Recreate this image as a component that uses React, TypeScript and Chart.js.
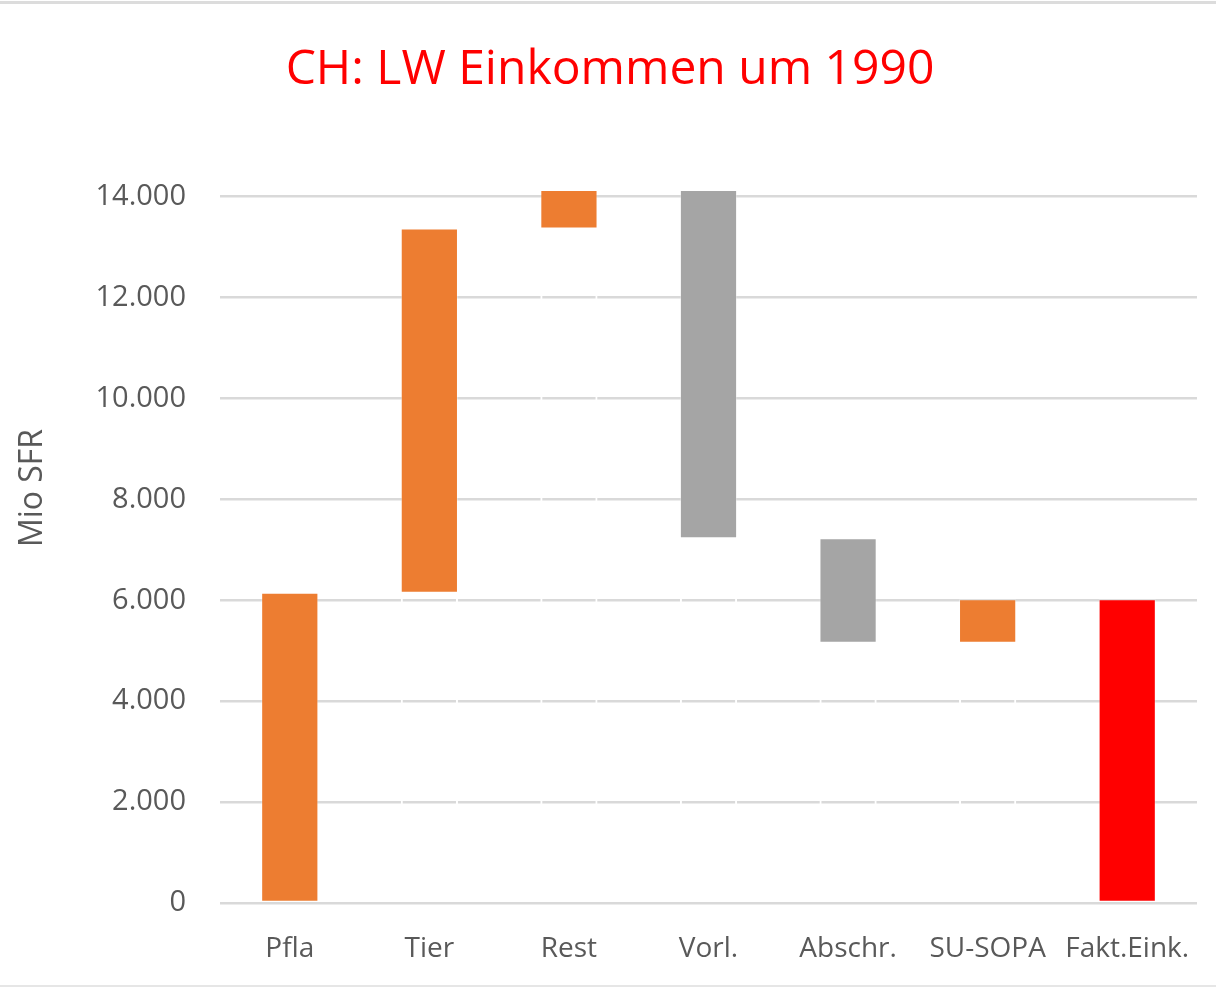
import React, { useEffect, useRef } from "react";
import { Chart, registerables } from "chart.js";

Chart.register(...registerables);

const categories = ["Pfla", "Tier", "Rest", "Vorl.", "Abschr.", "SU-SOPA", "Fakt.Eink."];
const barLow = [0, 6150, 13370, 7230, 5160, 5160, 0];
const barHigh = [6150, 13370, 14130, 14130, 7230, 6020, 6020];
const barColors = ["#ED7D31", "#ED7D31", "#ED7D31", "#A5A5A5", "#A5A5A5", "#ED7D31", "#FF0000"];
const yTicks = [0, 2000, 4000, 6000, 8000, 10000, 12000, 14000];
const titleText = "CH: LW Einkommen um 1990";
const yTitle = "Mio SFR";

const fmt = (v: number) => {
  const s = String(Math.round(v));
  return s.replace(/\B(?=(\d{3})+(?!\d))/g, ".");
};

const FONT = "'Open Sans', 'Liberation Sans', sans-serif";

const yTitlePlugin = {
  id: "yTitlePlugin",
  afterDraw(chart: any) {
    const ctx = chart.ctx;
    ctx.save();
    ctx.translate(33, 488);
    ctx.rotate(-Math.PI / 2);
    ctx.fillStyle = "#595959";
    ctx.font = `32px ${FONT}`;
    ctx.textAlign = "center";
    ctx.textBaseline = "middle";
    ctx.fillText(yTitle, 0, 0);
    ctx.restore();
  },
};

export default function App() {
  const ref = useRef<HTMLCanvasElement | null>(null);

  useEffect(() => {
    document.body.style.margin = "0";
    const canvas = ref.current;
    if (!canvas) return;
    const chart = new Chart(canvas, {
      type: "bar",
      data: {
        labels: categories,
        datasets: [
          {
            label: "base",
            data: barLow.map((l) => [0, l]),
            backgroundColor: "rgba(0,0,0,0)",
            borderColor: "#ffffff",
            borderWidth: { left: 2, right: 2, top: 0, bottom: 0 },
            borderSkipped: false,
            grouped: false,
            categoryPercentage: 1,
            barPercentage: 0.41,
          } as any,
          {
            label: "value",
            data: barLow.map((l, i) => [l, barHigh[i]]),
            backgroundColor: barColors,
            borderColor: "rgba(255,255,255,0.35)",
            borderWidth: 1,
            borderSkipped: false,
            grouped: false,
            clip: false,
            categoryPercentage: 1,
            barPercentage: 0.41,
          } as any,
        ],
      },
      options: {
        animation: false,
        responsive: false,
        maintainAspectRatio: false,
        layout: { padding: { left: 23, right: 19, top: 0, bottom: 0 } },
        plugins: {
          legend: { display: false },
          tooltip: { enabled: false },
          title: {
            display: true,
            text: titleText,
            color: "#FF0000",
            font: { family: FONT, size: 48, weight: "normal" },
            padding: { top: 42, bottom: 97 },
          },
        },
        scales: {
          x: {
            grid: { display: false, drawTicks: false },
            border: { display: false },
            ticks: {
              color: "#595959",
              font: { family: FONT, size: 28 },
              padding: 29,
              maxRotation: 0,
              autoSkip: false,
            },
            afterFit: (s: any) => {
              s.height = 85;
              s.paddingLeft = 0;
              s.paddingRight = 0;
            },
          },
          y: {
            min: 0,
            max: 14000,
            afterBuildTicks: (s: any) => {
              s.ticks = yTicks.map((v) => ({ value: v }));
            },
            grid: { color: "#D9D9D9", lineWidth: 2.5, drawTicks: false },
            border: { display: false },
            ticks: {
              color: "#595959",
              font: { family: FONT, size: 29 },
              padding: 34,
              callback: (v: any) => fmt(Number(v)),
            },
            afterFit: (s: any) => {
              s.width = 197;
            },
          },
        },
      } as any,
      plugins: [yTitlePlugin],
    });
    return () => chart.destroy();
  }, []);

  return (
    <div style={{ position: "relative", width: 1216, height: 988, background: "#fff" }}>
      <canvas ref={ref} width={1216} height={988} style={{ display: "block" }} />
      <div style={{ position: "absolute", left: 0, top: 1, width: 1216, height: 3, background: "#DCDCDC" }} />
      <div style={{ position: "absolute", left: 0, top: 985, width: 1216, height: 2, background: "#E6E6E6" }} />
    </div>
  );
}
